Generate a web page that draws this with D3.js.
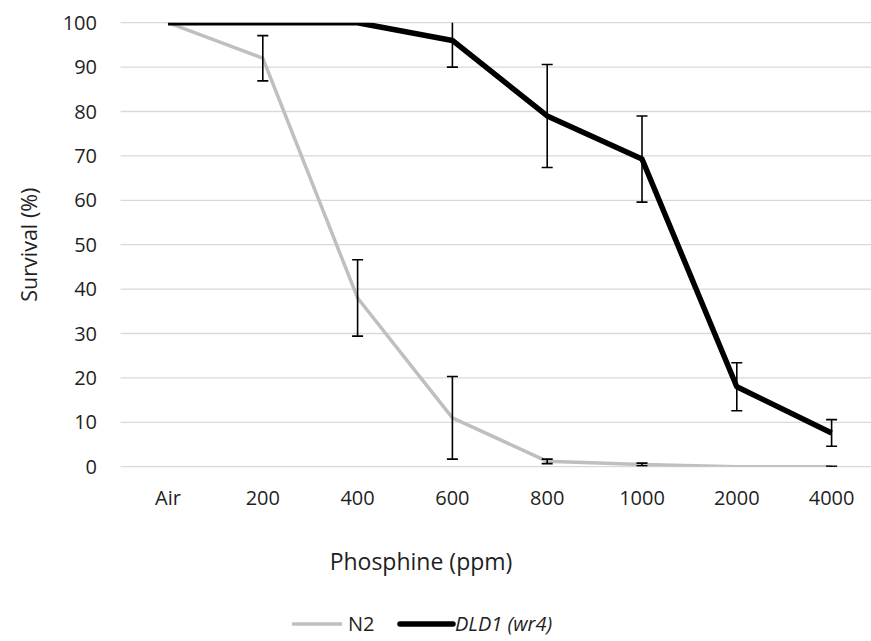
<!DOCTYPE html>
<html lang="en">
<head>
  <meta charset="UTF-8">
  <title>survival</title>
  <script src="https://cdn.jsdelivr.net/npm/d3@7"></script>
  <style>
    body { margin: 0; background: #fff; }
    text { font-family: "Open Sans", sans-serif; fill: #1f1f1f; }
  </style>
</head>
<body>
  <svg id="chart"></svg>
<script>
  const categories = ['Air', '200', '400', '600', '800', '1000', '2000', '4000'];
  const yTicks = [0, 10, 20, 30, 40, 50, 60, 70, 80, 90, 100];

  // N2 (grey)
  const n2Mean = [100, 92, 38, 11, 1.2, 0.5, 0, 0];
  const n2Err = [0, 5.1, 8.6, 9.3, 0.5, 0.3, 0, 0.1];

  // DLD1 (wr4) (black)
  const dldMean = [100, 100, 100, 96, 79, 69.3, 18, 7.6];
  const dldErr = [0, 0, 0, 6, 11.6, 9.7, 5.4, 3];

  const width = 871, height = 641;
  const margin = { left: 120.6, right: -8, top: 22.7, bottom: 174.3 };

  const svg = d3.select('#chart').attr('width', width).attr('height', height);

  const x = d3.scaleBand()
    .domain(categories)
    .range([margin.left, width - margin.right]);

  const y = d3.scaleLinear()
    .domain([0, 100])
    .range([height - margin.bottom, margin.top]);

  svg.append('defs').append('clipPath')
    .attr('id', 'plotClip')
    .append('rect')
    .attr('x', margin.left)
    .attr('y', y(100))
    .attr('width', width - margin.left)
    .attr('height', y(0) - y(100));

  // gridlines
  svg.append('g')
    .selectAll('line')
    .data(yTicks)
    .join('line')
    .attr('x1', margin.left)
    .attr('x2', width)
    .attr('y1', d => y(d))
    .attr('y2', d => y(d))
    .attr('stroke', '#d9d9d9')
    .attr('stroke-width', 1.3);

  // y tick labels
  svg.append('g')
    .selectAll('text')
    .data(yTicks)
    .join('text')
    .attr('x', 97)
    .attr('y', d => y(d))
    .attr('dy', '0.35em')
    .attr('text-anchor', 'end')
    .style('font-size', '20px')
    .text(d => d);

  // x tick labels
  svg.append('g')
    .selectAll('text')
    .data(categories)
    .join('text')
    .attr('x', d => x(d) + x.bandwidth() / 2)
    .attr('y', 505)
    .attr('text-anchor', 'middle')
    .style('font-size', '20px')
    .text(d => d);

  // axis titles
  svg.append('text')
    .attr('transform', `translate(37, ${(y(0) + y(100)) / 2}) rotate(-90)`)
    .attr('text-anchor', 'middle')
    .style('font-size', '21.5px')
    .text('Survival (%)');

  svg.append('text')
    .attr('x', 421)
    .attr('y', 570)
    .attr('text-anchor', 'middle')
    .style('font-size', '23px')
    .text('Phosphine (ppm)');

  const cx = d => x(d) + x.bandwidth() / 2;

  const line = d3.line()
    .x((d, i) => cx(categories[i]))
    .y(d => y(d));

  const series = [
    { name: 'N2', mean: n2Mean, err: n2Err, color: '#bfbfbf', w: 3.5 },
    { name: 'DLD1', mean: dldMean, err: dldErr, color: '#000000', w: 5.5 },
  ];

  const plot = svg.append('g').attr('clip-path', 'url(#plotClip)');

  series.forEach(s => {
    plot.append('path')
      .datum(s.mean)
      .attr('fill', 'none')
      .attr('stroke', s.color)
      .attr('stroke-width', s.w)
      .attr('stroke-linejoin', 'round')
      .attr('d', line);
  });

  // error bars
  series.forEach(s => {
    const pts = s.mean.map((m, i) => ({ c: categories[i], m, e: s.err[i] })).filter(d => d.e > 0);
    const g = plot.append('g').attr('stroke', '#000').attr('stroke-width', 1.6);
    g.selectAll('.v').data(pts).join('line')
      .attr('x1', d => cx(d.c)).attr('x2', d => cx(d.c))
      .attr('y1', d => y(d.m - d.e)).attr('y2', d => y(d.m + d.e));
    g.selectAll('.top').data(pts).join('line')
      .attr('x1', d => cx(d.c) - 5.5).attr('x2', d => cx(d.c) + 5.5)
      .attr('y1', d => y(d.m + d.e)).attr('y2', d => y(d.m + d.e));
    g.selectAll('.bot').data(pts).join('line')
      .attr('x1', d => cx(d.c) - 5.5).attr('x2', d => cx(d.c) + 5.5)
      .attr('y1', d => y(d.m - d.e)).attr('y2', d => y(d.m - d.e));
  });

  // legend
  const legend = svg.append('g').attr('transform', 'translate(0, 624)');
  legend.append('line')
    .attr('x1', 292).attr('x2', 342).attr('y1', 0).attr('y2', 0)
    .attr('stroke', '#bfbfbf').attr('stroke-width', 3.5);
  legend.append('text')
    .attr('x', 348).attr('y', 0).attr('dy', '0.35em')
    .style('font-size', '20px')
    .text('N2');
  legend.append('line')
    .attr('x1', 400).attr('x2', 453).attr('y1', 0).attr('y2', 0)
    .attr('stroke', '#000').attr('stroke-width', 5.5).attr('stroke-linecap', 'round');
  legend.append('text')
    .attr('x', 455).attr('y', 0).attr('dy', '0.35em')
    .style('font-size', '20px')
    .style('font-style', 'italic')
    .text('DLD1 (wr4)');
</script>
</body>
</html>
